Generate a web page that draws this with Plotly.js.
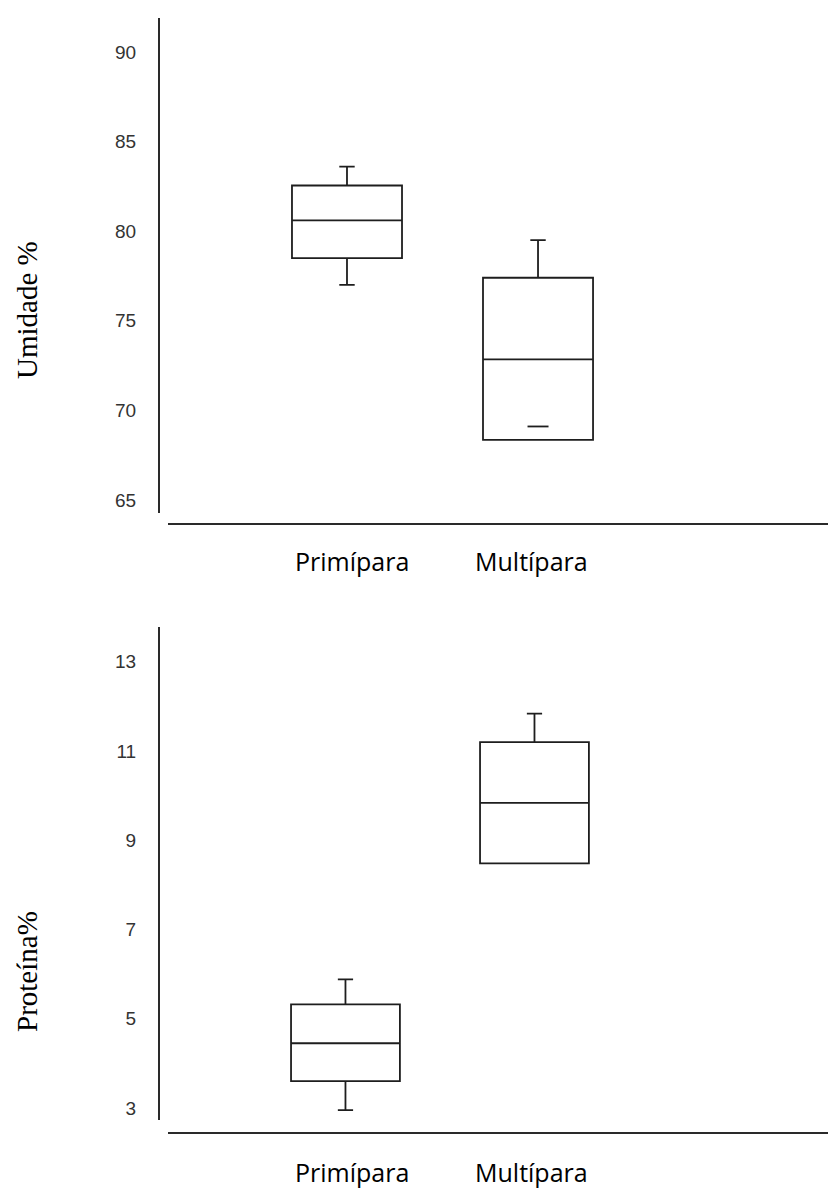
<!DOCTYPE html>
<html>
<head>
<meta charset="utf-8">
<script src="https://cdn.plot.ly/plotly-3.0.1.min.js"></script>
<style>html,body{margin:0;padding:0;background:#fff;}#chart{width:828px;height:1193px;}</style>
</head>
<body>
<div id="chart"></div>
<script>
// ---- data ----
var categories = ['Primípara', 'Multípara'];

// Umidade % (top panel)
var umidadeQ1 = [78.5, 68.35];
var umidadeMedian = [80.6, 72.85];
var umidadeQ3 = [82.55, 77.4];
var umidadeLower = [77.0, 68.35];
var umidadeUpper = [83.6, 79.5];
var umidadeLowerCapCat = ['Multípara'];
var umidadeLowerCapVal = [69.1];
var umidadeTicks = [65, 70, 75, 80, 85, 90];

// Proteína % (bottom panel)
var proteinaQ1 = [3.6, 8.48];
var proteinaMedian = [4.45, 9.84];
var proteinaQ3 = [5.32, 11.2];
var proteinaLower = [2.95, 8.48];
var proteinaUpper = [5.88, 11.84];
var proteinaTicks = [3, 5, 7, 9, 11, 13];

// ---- layout helpers ----
var W = 828, H = 1193;
function px(x) { return x / W; }
function py(y) { return 1 - y / H; }

var lineCol = '#1e1e1e';
var boxStyle = {
  type: 'box',
  x: categories,
  boxpoints: false,
  fillcolor: '#ffffff',
  line: { color: lineCol, width: 1.8 },
  whiskerwidth: 0.14,
  width: 0.576,
  hoverinfo: 'skip',
  showlegend: false
};

var traces = [
  Object.assign({}, boxStyle, {
    q1: umidadeQ1, median: umidadeMedian, q3: umidadeQ3,
    lowerfence: umidadeLower, upperfence: umidadeUpper,
    xaxis: 'x', yaxis: 'y'
  }),
  {
    type: 'scatter', mode: 'markers',
    x: umidadeLowerCapCat, y: umidadeLowerCapVal,
    marker: { symbol: 'line-ew', size: 15, line: { color: lineCol, width: 1.8 } },
    hoverinfo: 'skip', showlegend: false,
    xaxis: 'x', yaxis: 'y'
  },
  Object.assign({}, boxStyle, {
    q1: proteinaQ1, median: proteinaMedian, q3: proteinaQ3,
    lowerfence: proteinaLower, upperfence: proteinaUpper,
    xaxis: 'x2', yaxis: 'y2'
  })
];

var tickFont = { family: 'Liberation Sans, Arial, sans-serif', size: 19, color: '#333' };
var axisLineCol = '#2a2a2a';

function xAxis(yPos, range) {
  return {
    type: 'category', domain: [px(168), 1], range: range,
    anchor: 'free', position: py(yPos),
    showline: true, linecolor: axisLineCol, linewidth: 1.7,
    showticklabels: false, ticks: '', showgrid: false, zeroline: false,
    fixedrange: true
  };
}
function yAxis(top, bottom, range, ticks) {
  return {
    domain: [py(bottom), py(top)], range: range,
    anchor: 'free', position: px(158),
    showline: true, linecolor: axisLineCol, linewidth: 1.7,
    tickmode: 'array', tickvals: ticks, ticktext: ticks.map(String),
    ticks: '', ticklabelstandoff: 18,
    tickfont: tickFont, showgrid: false, zeroline: false,
    fixedrange: true
  };
}

var labelFont = { family: 'Open Sans, sans-serif', size: 25, color: '#000' };
var titleFont = { family: 'Liberation Serif, Times New Roman, serif', size: 29, color: '#000' };

var layout = {
  width: W, height: H,
  margin: { l: 0, r: 0, t: 0, b: 0 },
  paper_bgcolor: '#fff', plot_bgcolor: '#fff',
  showlegend: false,
  xaxis: xAxis(523, [-0.937, 2.518]),
  yaxis: yAxis(18, 513, [64.27, 91.9], umidadeTicks),
  xaxis2: xAxis(1132, [-0.939, 2.553]),
  yaxis2: yAxis(627, 1120, [2.73, 13.78], proteinaTicks),
  annotations: [
    { text: 'Umidade %', xref: 'paper', yref: 'paper', x: px(27), y: py(310),
      textangle: -90, showarrow: false, font: titleFont, xanchor: 'center', yanchor: 'middle' },
    { text: 'Proteína%', xref: 'paper', yref: 'paper', x: px(27), y: py(972),
      textangle: -90, showarrow: false, font: titleFont, xanchor: 'center', yanchor: 'middle' },
    { text: categories[0], xref: 'paper', yref: 'paper', x: px(352), y: py(561),
      showarrow: false, font: labelFont, xanchor: 'center', yanchor: 'middle' },
    { text: categories[1], xref: 'paper', yref: 'paper', x: px(531), y: py(561),
      showarrow: false, font: labelFont, xanchor: 'center', yanchor: 'middle' },
    { text: categories[0], xref: 'paper', yref: 'paper', x: px(352), y: py(1172),
      showarrow: false, font: labelFont, xanchor: 'center', yanchor: 'middle' },
    { text: categories[1], xref: 'paper', yref: 'paper', x: px(531), y: py(1172),
      showarrow: false, font: labelFont, xanchor: 'center', yanchor: 'middle' }
  ]
};

Plotly.newPlot('chart', traces, layout, { staticPlot: true, displayModeBar: false });
</script>
</body>
</html>
